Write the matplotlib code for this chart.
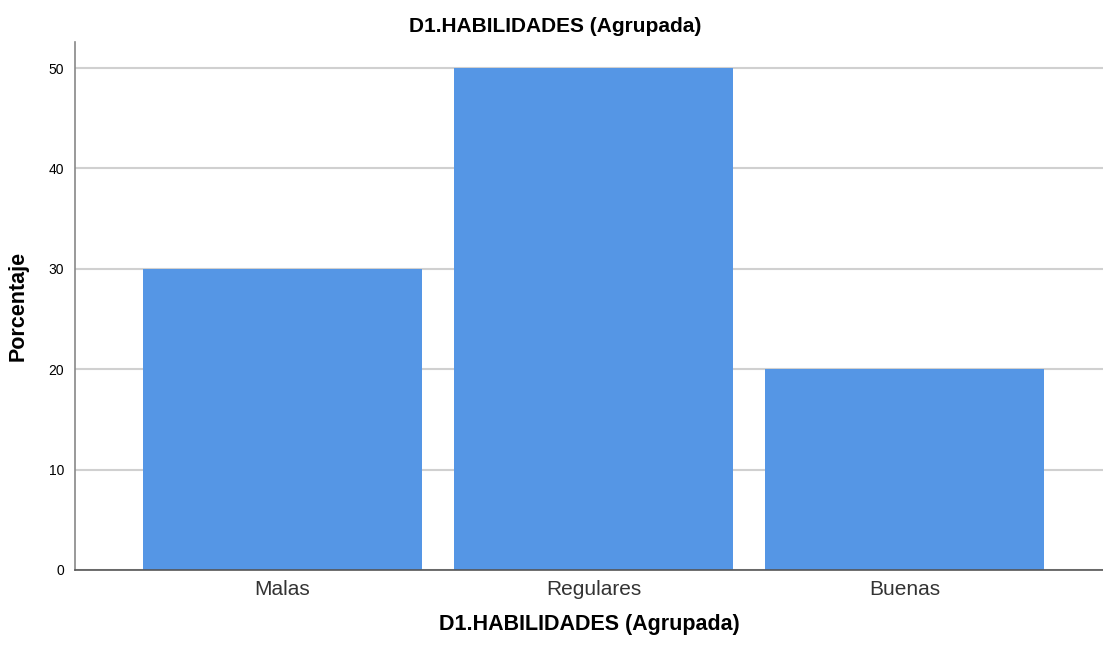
import matplotlib
matplotlib.use('Agg')
import matplotlib.pyplot as plt

categories = ['Malas', 'Regulares', 'Buenas']
porcentaje = [30, 50, 20]
yticks = [0, 10, 20, 30, 40, 50]

plt.rcParams['font.family'] = ['Liberation Sans', 'DejaVu Sans']

fig = plt.figure(figsize=(11.03, 6.48), dpi=100)
ax = fig.add_axes([0.068, 0.1204, 0.932, 0.8148])

ax.bar(range(len(categories)), porcentaje, width=0.897, color='#5596E5', zorder=2)

ax.set_xlim(-0.667, 2.638)
ax.set_ylim(0, 52.6)
ax.set_yticks(yticks)
ax.set_xticks(range(len(categories)))
ax.set_xticklabels(categories, fontsize=15, color='#333333')
ax.tick_params(axis='y', length=0, labelsize=10, pad=8)
ax.tick_params(axis='x', length=0, pad=7)
ax.grid(axis='y', color='#d0d0d0', linewidth=1.5, zorder=0)

for s in ['top', 'right']:
    ax.spines[s].set_visible(False)
ax.spines['left'].set_color('#888888')
ax.spines['bottom'].set_color('#555555')
ax.spines['left'].set_linewidth(1.2)
ax.spines['bottom'].set_linewidth(1.2)

ax.set_title('D1.HABILIDADES (Agrupada)', fontsize=15, fontweight='bold', pad=7, x=0.467)
ax.set_xlabel('D1.HABILIDADES (Agrupada)', fontsize=15.5, fontweight='bold', labelpad=11)
ax.set_ylabel('Porcentaje', fontsize=15.5, fontweight='bold', labelpad=14)

fig.savefig('out.png', dpi=100)
